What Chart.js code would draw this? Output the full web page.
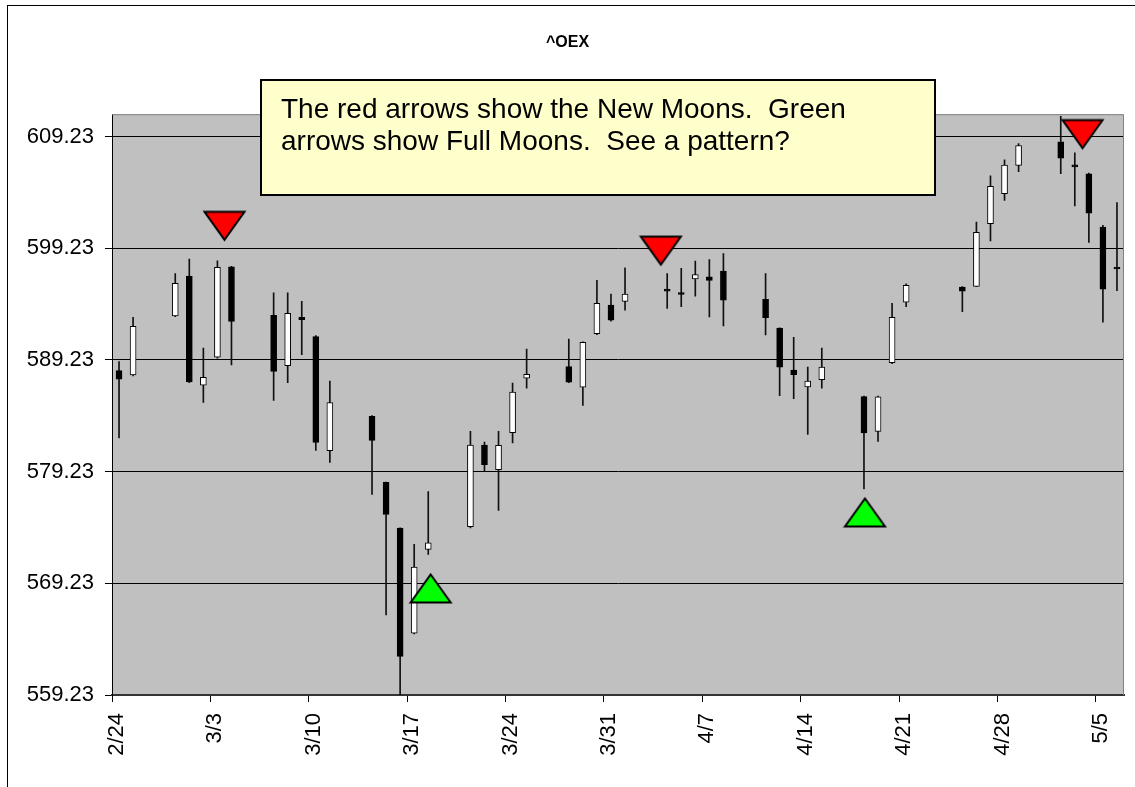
<!DOCTYPE html>
<html>
<head>
<meta charset="utf-8">
<title>^OEX</title>
<script src="https://cdn.jsdelivr.net/npm/chart.js@4.4.0/dist/chart.umd.min.js"></script>
<style>
  html, body { margin: 0; padding: 0; background: #fff; }
  #wrap { width: 1135px; height: 787px; }
</style>
</head>
<body>
<div id="wrap"><canvas id="oexChart" width="1135" height="787"></canvas></div>
<script>
// daily OHLC for ^OEX
const dates = [
  '2005-02-24','2005-02-25',
  '2005-02-28','2005-03-01','2005-03-02','2005-03-03','2005-03-04',
  '2005-03-07','2005-03-08','2005-03-09','2005-03-10','2005-03-11',
  '2005-03-14','2005-03-15','2005-03-16','2005-03-17','2005-03-18',
  '2005-03-21','2005-03-22','2005-03-23','2005-03-24','2005-03-25',
  '2005-03-28','2005-03-29','2005-03-30','2005-03-31','2005-04-01',
  '2005-04-04','2005-04-05','2005-04-06','2005-04-07','2005-04-08',
  '2005-04-11','2005-04-12','2005-04-13','2005-04-14','2005-04-15',
  '2005-04-18','2005-04-19','2005-04-20','2005-04-21',
  '2005-04-25','2005-04-26','2005-04-27','2005-04-28','2005-04-29',
  '2005-05-02','2005-05-03','2005-05-04','2005-05-05','2005-05-06'
];
const opens = [
  588.27, 587.89,
  593.16, 596.73, 586.97, 589.47, 597.56,
  593.22, 588.72, 593.04, 591.31, 581.10,
  584.17, 578.27, 574.17, 564.77, 572.27,
  574.29, 581.61, 579.41, 582.71, 587.60,
  588.63, 586.79, 591.58, 594.14, 594.47,
  595.57, 595.27, 596.49, 596.67, 597.18,
  594.65, 592.09, 588.31, 586.82, 587.47,
  585.95, 582.83, 588.99, 594.41,
  595.75, 595.81, 601.44, 604.11, 606.64,
  608.76, 606.70, 605.90, 601.13, 597.53
];
const highs = [
  589.08, 593.04,
  596.97, 598.25, 590.30, 598.10, 597.62,
  595.24, 595.24, 594.47, 591.40, 587.33,
  584.25, 578.30, 574.20, 572.71, 577.44,
  582.83, 581.88, 582.83, 587.15, 590.19,
  591.10, 590.85, 596.35, 595.12, 597.47,
  596.97, 597.42, 598.07, 598.22, 598.76,
  596.97, 592.10, 591.26, 588.58, 590.30,
  586.00, 586.00, 594.29, 596.04,
  595.80, 601.58, 605.72, 607.15, 608.60,
  611.04, 607.77, 605.95, 601.28, 603.31
];
const lows = [
  582.24, 587.80,
  593.10, 587.20, 585.42, 589.38, 588.78,
  585.60, 587.20, 589.70, 581.13, 580.06,
  577.18, 566.40, 558.80, 564.70, 571.82,
  574.20, 579.26, 575.75, 581.79, 586.70,
  587.20, 585.15, 591.50, 592.70, 593.69,
  593.85, 593.99, 594.94, 593.07, 592.27,
  591.46, 586.04, 585.75, 582.56, 586.70,
  577.69, 581.94, 588.90, 593.99,
  593.54, 595.80, 599.88, 603.52, 606.08,
  605.90, 603.01, 599.74, 592.60, 595.42
];
const closes = [
  587.51, 592.24,
  596.08, 587.27, 587.68, 597.51, 592.68,
  588.19, 593.40, 592.83, 581.85, 585.42,
  582.02, 575.39, 562.69, 570.69, 572.86,
  581.61, 579.85, 581.58, 586.35, 587.95,
  587.24, 590.81, 594.29, 592.80, 595.12,
  595.39, 595.10, 596.88, 596.35, 594.59,
  593.01, 588.58, 587.92, 587.33, 588.60,
  582.69, 585.93, 593.04, 595.90,
  595.39, 600.66, 604.77, 606.67, 608.43,
  607.29, 606.52, 602.38, 595.57, 597.38
];

const xTickLabels = ['2/24', '3/3', '3/10', '3/17', '3/24', '3/31', '4/7', '4/14', '4/21', '4/28', '5/5'];
const yTicks = [559.23, 569.23, 579.23, 589.23, 599.23, 609.23];

// moon markers: days after 2/24 and price level
const newMoonDay = [8.0, 39.05, 69.05];
const newMoonPrice = [601.24, 599.02, 609.45];
const fullMoonDay = [22.67, 53.57];
const fullMoonPrice = [568.77, 575.57];

const noteLines = [
  'The red arrows show the New Moons.  Green',
  'arrows show Full Moons.  See a pattern?'
];

const FONT = "'Liberation Sans', Arial, sans-serif";
const START = Date.UTC(2005, 1, 24);
const DAYS_SHOWN = 72;

function dayOf(iso) {
  return (Date.parse(iso + 'T00:00:00Z') - START) / 86400000;
}
function tickDay(md) {
  const [m, d] = md.split('/');
  return dayOf('2005-' + m.padStart(2, '0') + '-' + d.padStart(2, '0'));
}

function arrowImage(fill, down) {
  const c = document.createElement('canvas');
  c.width = 45; c.height = 33;
  const g = c.getContext('2d');
  g.beginPath();
  if (down) {
    g.moveTo(2.5, 2.5); g.lineTo(42.5, 2.5); g.lineTo(22.5, 30.5);
  } else {
    g.moveTo(22.5, 2.5); g.lineTo(42.5, 30.5); g.lineTo(2.5, 30.5);
  }
  g.closePath();
  g.fillStyle = fill;
  g.fill();
  g.lineWidth = 2;
  g.strokeStyle = '#000';
  g.stroke();
  return c;
}

const bodies = dates.map((d, i) => ({ x: dayOf(d) + 0.5, y: [opens[i], closes[i]] }));
const wicks = dates.map((d, i) => ({ x: dayOf(d) + 0.5, y: [lows[i], highs[i]] }));
const bodyColors = opens.map((o, i) => closes[i] >= o ? '#ffffff' : '#000000');

const plotBackground = {
  id: 'plotBackground',
  beforeDraw(chart) {
    const { ctx, chartArea: a } = chart;
    ctx.save();
    ctx.fillStyle = '#c0c0c0';
    ctx.fillRect(a.left, a.top, a.right - a.left, a.bottom - a.top);
    // outer chart border (runs off the right and bottom edge)
    ctx.strokeStyle = '#000';
    ctx.lineWidth = 1;
    ctx.strokeRect(7.5, 5.5, 1200, 900);
    ctx.restore();
  },
  afterDatasetsDraw(chart) {
    const { ctx, chartArea: a } = chart;
    ctx.save();
    ctx.strokeStyle = '#808080';
    ctx.lineWidth = 1;
    ctx.beginPath();
    ctx.moveTo(a.left, a.top + 0.5);
    ctx.lineTo(a.right - 0.5, a.top + 0.5);
    ctx.lineTo(a.right - 0.5, a.bottom);
    ctx.stroke();
    ctx.restore();
  }
};

const noteBox = {
  id: 'noteBox',
  afterDraw(chart) {
    const ctx = chart.ctx;
    ctx.save();
    ctx.fillStyle = '#ffffcc';
    ctx.fillRect(261, 80, 674, 115);
    ctx.strokeStyle = '#000';
    ctx.lineWidth = 2;
    ctx.strokeRect(261, 80, 674, 115);
    ctx.fillStyle = '#000';
    ctx.font = '28px ' + FONT;
    ctx.textBaseline = 'alphabetic';
    ctx.fillText(noteLines[0], 281, 118);
    ctx.fillText(noteLines[1], 281, 150);
    ctx.restore();
  }
};

new Chart(document.getElementById('oexChart').getContext('2d'), {
  type: 'bar',
  data: {
    datasets: [
      {
        type: 'scatter',
        label: 'New Moon',
        data: newMoonDay.map((x, i) => ({ x, y: newMoonPrice[i] })),
        pointStyle: arrowImage('#ff0000', true),
        pointRadius: 10,
        order: 0
      },
      {
        type: 'scatter',
        label: 'Full Moon',
        data: fullMoonDay.map((x, i) => ({ x, y: fullMoonPrice[i] })),
        pointStyle: arrowImage('#00ff00', false),
        pointRadius: 10,
        order: 0
      },
      {
        label: 'Open/Close',
        data: bodies,
        backgroundColor: bodyColors,
        borderColor: '#000',
        borderWidth: 1,
        borderSkipped: false,
        barThickness: 6,
        grouped: false,
        order: 1
      },
      {
        label: 'High/Low',
        data: wicks,
        backgroundColor: '#111',
        borderWidth: 0,
        barThickness: 1,
        grouped: false,
        order: 2
      }
    ]
  },
  options: {
    responsive: false,
    animation: false,
    layout: { padding: { left: 11, right: 11, top: 0, bottom: 0 } },
    plugins: {
      legend: { display: false },
      tooltip: { enabled: false },
      title: {
        display: true,
        text: '^OEX',
        color: '#000',
        font: { family: FONT, size: 16, weight: 'bold' },
        padding: { top: 33, bottom: 62 }
      }
    },
    scales: {
      x: {
        type: 'linear',
        offset: false,
        min: 0,
        max: DAYS_SHOWN,
        afterBuildTicks: s => { s.ticks = xTickLabels.map(l => ({ value: tickDay(l) })); },
        afterFit: s => { s.height = 92; },
        ticks: {
          autoSkip: false,
          minRotation: 90,
          maxRotation: 90,
          padding: 11,
          labelOffset: 5,
          color: '#000',
          font: { family: FONT, size: 22 },
          callback: (v, i) => xTickLabels[i]
        },
        grid: { offset: false, drawOnChartArea: false, tickLength: 7, color: '#000' },
        border: { color: '#333', width: 2 }
      },
      y: {
        min: 559.23,
        max: 611.23,
        afterBuildTicks: s => { s.ticks = yTicks.map(v => ({ value: v })); },
        afterFit: s => { s.width = 101; },
        ticks: {
          padding: 11,
          color: '#000',
          font: { family: FONT, size: 22 },
          callback: v => v.toFixed(2)
        },
        grid: { color: '#000', tickLength: 7, lineWidth: 1 },
        border: { color: '#000', width: 1 }
      }
    }
  },
  plugins: [plotBackground, noteBox]
});
</script>
</body>
</html>
